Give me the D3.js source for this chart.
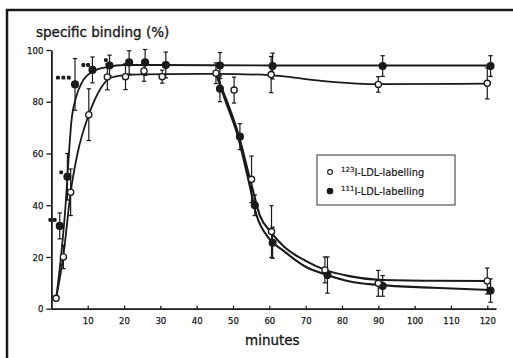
<!DOCTYPE html>
<html>
<head>
<meta charset="utf-8">
<script src="https://cdn.jsdelivr.net/npm/d3@7"></script>
<style>
  body { margin: 0; background: #fff; }
  svg { display: block; }
  .tick text { font-family: "DejaVu Sans Condensed", "Liberation Sans Narrow", "Liberation Sans", sans-serif; font-size: 9.5px; fill: #1a1a1a; stroke: #1a1a1a; stroke-width: 0.25px; }
  .lbl { font-family: "DejaVu Sans", sans-serif; fill: #1a1a1a; stroke: #1a1a1a; stroke-width: 0.35px; }
</style>
</head>
<body>
<script>
// measured points, 123I labelling (open circles)
var openTime  = [1.3, 3.3, 5.3, 10.3, 15.4, 20.4, 25.5, 30.5, 45.3, 60.5, 90, 120]
var openValue = [4, 20, 45, 75, 89.6, 89.7, 91.9, 89.7, 91, 90.5, 86.7, 87.1]
var openErr   = [1, 4.5, 9, 10, 5, 5, 4, 2.5, 4, 7, 3, 6]
var openDropTime  = [50.3, 55.1, 60.6, 75.3, 90, 120]
var openDropValue = [84.5, 50, 29.8, 15, 9.8, 10.7]
var openDropErr   = [5, 9, 10, 5, 5, 5]

// measured points, 111I labelling (filled circles)
var fillTime  = [2.3, 4.4, 6.5, 11.3, 16, 21.4, 25.8, 31.5, 46.4, 60.9, 91.2, 120.9]
var fillValue = [32, 51, 86.7, 92.3, 94, 95.2, 95.2, 94.2, 94, 93.8, 93.8, 93.8]
var fillErr   = [5, 9, 10, 5, 4, 4.5, 5, 5, 5, 5, 4, 4]
var fillDropTime  = [46.4, 51.9, 56, 60.9, 76, 91.2, 120.9]
var fillDropValue = [85, 66.5, 40, 25.5, 13, 8.8, 7]
var fillDropErr   = [5, 5, 4, 6, 7, 4, 4.5]

// fitted curves [minutes, %]
var openFit = [[1.3,4],[3.3,20.5],[5.3,45],[7.1,59.4],[10.3,75],[13.6,85.2],[15.9,89],[20,90.2],[25,90.6],[45,90.8],[60,90.3],[75,88],[90,86.8],[120,87]]
var fillFit = [[1.3,4],[2.7,20.8],[3.9,40],[4.8,59.4],[5.5,72.3],[6.7,81.3],[8.5,87.7],[11.3,91.6],[15.4,93.4],[20,94.2],[30,94.2],[60,94],[121,94]]
var openDropFit = [[45.3,91],[48.2,80.6],[51.4,67.8],[54.7,50],[57.4,36],[60.5,29.5],[64,24],[70,18.5],[75,15.2],[82,12.6],[90,11.2],[105,10.8],[120,10.7]]
var fillDropFit = [[45.3,91],[48,80],[51.1,67.8],[54.2,50],[56.5,36],[59.7,27.5],[63.8,22.5],[70,16.2],[75.3,13.3],[82.2,10.5],[90,9.2],[105,8.1],[121,7.2]]

// significance dots
var sigTimes  = [[-0.3, 0.9], [2.7], [1.8, 3.3, 4.8], [8.8, 10.1], [15]]
var sigValues = [34.3, 52.7, 89.3, 94.2, 96.1]

var xTicks = [10, 20, 30, 40, 50, 60, 70, 80, 90, 100, 110, 120]
var yTicks = [0, 20, 40, 60, 80, 100]

var width = 513, height = 358
var ink = "#1a1a1a"

var svg = d3.select("body").append("svg")
    .attr("width", width)
    .attr("height", height)

svg.append("rect").attr("width", width).attr("height", height).attr("fill", "#fff")

// frame (only top and left edges are in view)
svg.append("path")
    .attr("d", "M7," + height + "V10H" + width)
    .attr("fill", "none")
    .attr("stroke", ink)
    .attr("stroke-width", 2.5)

var x = d3.scaleLinear().domain([0, 122.4]).range([51.4, 496])
var y = d3.scaleLinear().domain([0, 100]).range([308.7, 50])

// axes
var xAxis = svg.append("g")
    .attr("transform", "translate(0," + y(0) + ")")
    .call(d3.axisBottom(x).tickValues(xTicks).tickSizeInner(-3).tickSizeOuter(0).tickPadding(9))
xAxis.select(".domain").attr("stroke", ink).attr("stroke-width", 1.8)
xAxis.selectAll(".tick line").attr("stroke", ink).attr("stroke-width", 1.3)

var yAxis = svg.append("g")
    .attr("transform", "translate(" + x(0) + ",0)")
    .call(d3.axisLeft(y).tickValues(yTicks).tickSizeInner(5).tickSizeOuter(0).tickPadding(3))
yAxis.select(".domain").attr("stroke", ink).attr("stroke-width", 1.8)
yAxis.selectAll(".tick line").attr("stroke", ink).attr("stroke-width", 1.3)

svg.append("text").attr("class", "lbl")
    .attr("x", 36).attr("y", 36.5)
    .attr("font-size", 13.5)
    .text("specific binding (%)")

svg.append("text").attr("class", "lbl")
    .attr("x", 245).attr("y", 345)
    .attr("font-size", 13.5)
    .text("minutes")

// curves
var line = d3.line()
    .x(function(d) { return x(d[0]) })
    .y(function(d) { return y(d[1]) })
    .curve(d3.curveMonotoneX)

var fits = [openFit, fillFit, openDropFit, fillDropFit]
svg.selectAll("path.fit")
    .data(fits)
    .enter()
    .append("path")
        .attr("class", "fit")
        .attr("d", line)
        .attr("fill", "none")
        .attr("stroke", ink)
        .attr("stroke-width", function(d, i) { return i < 2 ? 1.8 : 2.1 })

// points
function toPts(ts, vs, es, filled) {
    return ts.map(function(t, i) { return {t: t, v: vs[i], e: es[i], filled: filled} })
}
var pts = []
    .concat(toPts(fillTime, fillValue, fillErr, true))
    .concat(toPts(fillDropTime, fillDropValue, fillDropErr, true))
    .concat(toPts(openTime, openValue, openErr, false))
    .concat(toPts(openDropTime, openDropValue, openDropErr, false))

var bars = svg.selectAll("g.err")
    .data(pts)
    .enter()
    .append("g")
        .attr("class", "err")
        .attr("stroke", ink)
        .attr("stroke-width", 1.2)

bars.append("line")
    .attr("x1", function(d) { return x(d.t) })
    .attr("x2", function(d) { return x(d.t) })
    .attr("y1", function(d) { return y(d.v + d.e) })
    .attr("y2", function(d) { return y(d.v - d.e) })
bars.append("line")
    .attr("x1", function(d) { return x(d.t) - 2.2 })
    .attr("x2", function(d) { return x(d.t) + 2.2 })
    .attr("y1", function(d) { return y(d.v + d.e) })
    .attr("y2", function(d) { return y(d.v + d.e) })
bars.append("line")
    .attr("x1", function(d) { return x(d.t) - 2.2 })
    .attr("x2", function(d) { return x(d.t) + 2.2 })
    .attr("y1", function(d) { return y(d.v - d.e) })
    .attr("y2", function(d) { return y(d.v - d.e) })

svg.selectAll("circle.pt")
    .data(pts)
    .enter()
    .append("circle")
        .attr("class", "pt")
        .attr("cx", function(d) { return x(d.t) })
        .attr("cy", function(d) { return y(d.v) })
        .attr("r", function(d) { return d.filled ? 3.4 : 3.1 })
        .attr("fill", function(d) { return d.filled ? ink : "#fff" })
        .attr("stroke", ink)
        .attr("stroke-width", 1.3)

// significance dots
sigTimes.forEach(function(ts, i) {
    svg.selectAll(null)
        .data(ts)
        .enter()
        .append("rect")
            .attr("x", function(t) { return x(t) - 1.9 })
            .attr("y", y(sigValues[i]) - 1.9)
            .attr("width", 3.8)
            .attr("height", 3.8)
            .attr("rx", 1.2)
            .attr("fill", ink)
})

// legend
var legend = svg.append("g")
svg.append("rect")
    .attr("x", 317).attr("y", 155)
    .attr("width", 138).attr("height", 50)
    .attr("fill", "none")
    .attr("stroke", "#333")
    .attr("stroke-width", 1)

var legendItems = [
    {iso: "123", filled: false, y: 172},
    {iso: "111", filled: true, y: 191}
]
var item = legend.selectAll("g.item")
    .data(legendItems)
    .enter()
    .append("g")
        .attr("class", "item")

item.append("circle")
    .attr("cx", 330)
    .attr("cy", function(d) { return d.y })
    .attr("r", function(d) { return d.filled ? 2.8 : 2.4 })
    .attr("fill", function(d) { return d.filled ? ink : "#fff" })
    .attr("stroke", ink)
    .attr("stroke-width", 1.1)

var txt = item.append("text")
    .attr("class", "lbl")
    .attr("x", 341)
    .attr("y", function(d) { return d.y + 3.5 })
    .attr("font-size", 9.8)
    .style("stroke-width", "0.2px")
txt.append("tspan")
    .attr("font-size", 7)
    .attr("dy", -4)
    .text(function(d) { return d.iso })
txt.append("tspan")
    .attr("dy", 4)
    .text("I-LDL-labelling")
</script>
</body>
</html>
